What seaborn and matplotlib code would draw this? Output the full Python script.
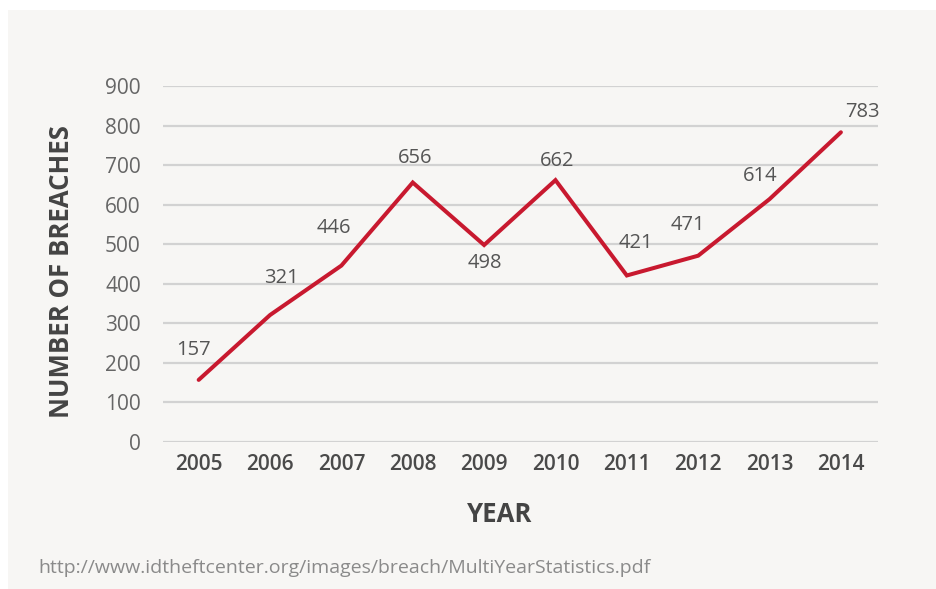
import matplotlib
matplotlib.use("Agg")
import numpy as np
import pandas as pd
import matplotlib.pyplot as plt
import seaborn as sns
from matplotlib.patches import Rectangle

years = [2005, 2006, 2007, 2008, 2009, 2010, 2011, 2012, 2013, 2014]
breaches = [157, 321, 446, 656, 498, 662, 421, 471, 614, 783]
# label offsets in pixels (dx, dy) relative to each point
label_offsets = [(-5, 30), (11, 37), (-8, 38), (2, 25), (1, -18),
                 (2, 19), (9, 32), (-10, 31), (-9, 23), (22, 20)]
y_ticks = [0, 100, 200, 300, 400, 500, 600, 700, 800, 900]
source = "http://www.idtheftcenter.org/images/breach/MultiYearStatistics.pdf"

sns.set_style("white")
plt.rcParams["font.family"] = ["Open Sans", "DejaVu Sans"]

BG = "#f7f6f4"
RED = "#c8192f"

df = pd.DataFrame({"Year": years, "Breaches": breaches})

fig = plt.figure(figsize=(9.36, 5.89), dpi=100, facecolor="white")
bg = Rectangle((8 / 936, 0), 1, 1 - 10 / 589, transform=fig.transFigure,
               facecolor=BG, edgecolor="none", zorder=-10)
fig.patches.append(bg)
ax = fig.add_axes([163 / 936, 1 - 442 / 589, 715 / 936, 356 / 589])
ax.set_facecolor("none")

sns.lineplot(data=df, x="Year", y="Breaches", ax=ax, color=RED, linewidth=2.9,
             solid_capstyle="round", solid_joinstyle="miter", zorder=3)

for (yr, val), (dx, dy) in zip(zip(years, breaches), label_offsets):
    ax.annotate(str(val), (yr, val), xytext=(dx, dy), textcoords="offset pixels",
                ha="center", va="center", fontsize=14.5, color="#555555")

ax.set_xlim(2004.5, 2014.52)
ax.set_ylim(0, 900)
ax.set_yticks(y_ticks)
ax.set_xticks(years)
ax.set_xticklabels([str(y) for y in years], fontweight="semibold", color="#4a4a4a", fontsize=15)
ax.set_yticklabels([str(t) for t in y_ticks], color="#666666", fontsize=15)
ax.tick_params(axis="both", length=0)
ax.tick_params(axis="y", pad=16)
ax.tick_params(axis="x", pad=9)
ax.grid(axis="y", color="#d2d2d2", linewidth=1.6, zorder=1)
ax.grid(axis="x", visible=False)
ax.set_axisbelow(True)
for s in ax.spines.values():
    s.set_visible(False)

ax.set_ylabel("NUMBER OF BREACHES", fontsize=18.5, fontweight="bold", color="#444444")
ax.yaxis.set_label_coords((62 - 163) / 715, (442 - 272) / 356)
ax.yaxis.label.set_va("center")
ax.set_xlabel("YEAR", fontsize=18.5, fontweight="bold", color="#444444")
ax.xaxis.set_label_coords((500 - 163) / 715, (442 - 515) / 356)
ax.xaxis.label.set_va("center")

fig.text(38 / 936, 1 - 568 / 589, source, fontsize=14, color="#8a8a8a",
         ha="left", va="center")

fig.savefig("out.png", dpi=100, facecolor="white")
